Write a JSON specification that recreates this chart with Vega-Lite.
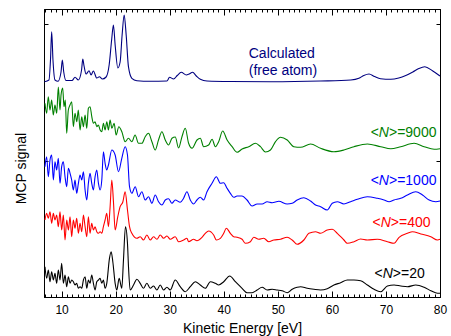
{
"$schema":"https://vega.github.io/schema/vega-lite/v6.json",
"width":396,"height":288,"autosize":"none",
"padding":{"left":44,"top":9,"right":11,"bottom":39},
"background":"white",
"config":{"font":"Liberation Sans","view":{"stroke":"black","strokeWidth":1},
"axis":{"domainColor":"black","tickColor":"black","labelColor":"black","titleColor":"black","grid":false,"domainWidth":1,"tickWidth":1}},
"datasets":{
"curves":[
{"series":"calc","E":6.84,"signal":215.3},{"series":"calc","E":7.67,"signal":217},{"series":"calc","E":7.95,"signal":237},{"series":"calc","E":8.17,"signal":265.3},{"series":"calc","E":8.41,"signal":237},{"series":"calc","E":8.78,"signal":217},{"series":"calc","E":9.34,"signal":215.7},{"series":"calc","E":9.9,"signal":225},{"series":"calc","E":10.14,"signal":237},{"series":"calc","E":10.4,"signal":225},{"series":"calc","E":10.82,"signal":216.5},{"series":"calc","E":11.94,"signal":216.5},{"series":"calc","E":12.49,"signal":219.7},{"series":"calc","E":13.1,"signal":217},{"series":"calc","E":13.7,"signal":227},{"series":"calc","E":13.92,"signal":238},{"series":"calc","E":14.16,"signal":231},{"series":"calc","E":14.53,"signal":223},{"series":"calc","E":15.09,"signal":226.3},{"series":"calc","E":15.46,"signal":222},{"series":"calc","E":15.88,"signal":226},{"series":"calc","E":16.51,"signal":219},{"series":"calc","E":17.0,"signal":220.3},{"series":"calc","E":17.55,"signal":218},{"series":"calc","E":18.24,"signal":220},{"series":"calc","E":18.8,"signal":232},{"series":"calc","E":19.26,"signal":257},{"series":"calc","E":19.59,"signal":272},{"series":"calc","E":19.91,"signal":252},{"series":"calc","E":20.41,"signal":229},{"series":"calc","E":20.83,"signal":235},{"series":"calc","E":21.2,"signal":262},{"series":"calc","E":21.58,"signal":282},{"series":"calc","E":21.95,"signal":262},{"series":"calc","E":22.37,"signal":230.3},{"series":"calc","E":23.0,"signal":218.7},{"series":"calc","E":23.93,"signal":216.3},{"series":"calc","E":26.4,"signal":215.7},{"series":"calc","E":29.49,"signal":216},{"series":"calc","E":29.97,"signal":219.7},{"series":"calc","E":30.72,"signal":218},{"series":"calc","E":31.4,"signal":221.5},{"series":"calc","E":32.14,"signal":224.7},{"series":"calc","E":33.07,"signal":222},{"series":"calc","E":33.6,"signal":223},{"series":"calc","E":34.24,"signal":224.7},{"series":"calc","E":34.92,"signal":221},{"series":"calc","E":35.67,"signal":217.7},{"series":"calc","E":36.9,"signal":216},{"series":"calc","E":41.2,"signal":215.5},{"series":"calc","E":48.64,"signal":215.3},{"series":"calc","E":57.9,"signal":216},{"series":"calc","E":63.5,"signal":217},{"series":"calc","E":65.0,"signal":218.7},{"series":"calc","E":65.9,"signal":221.5},{"series":"calc","E":66.87,"signal":223},{"series":"calc","E":67.9,"signal":220.5},{"series":"calc","E":69.0,"signal":218.3},{"series":"calc","E":70.9,"signal":217.7},{"series":"calc","E":72.37,"signal":219},{"series":"calc","E":73.67,"signal":221.5},{"series":"calc","E":74.97,"signal":225},{"series":"calc","E":76.08,"signal":228.5},{"series":"calc","E":77.19,"signal":230.3},{"series":"calc","E":78.6,"signal":226.3},{"series":"calc","E":80.0,"signal":221},
{"series":"9000","E":6.93,"signal":193.7},{"series":"9000","E":7.24,"signal":183.7},{"series":"9000","E":7.54,"signal":200.3},{"series":"9000","E":7.86,"signal":187},{"series":"9000","E":8.17,"signal":197},{"series":"9000","E":8.47,"signal":182},{"series":"9000","E":8.78,"signal":192},{"series":"9000","E":9.1,"signal":183.7},{"series":"9000","E":9.4,"signal":210},{"series":"9000","E":9.71,"signal":187},{"series":"9000","E":9.9,"signal":202},{"series":"9000","E":10.21,"signal":209},{"series":"9000","E":10.45,"signal":190.3},{"series":"9000","E":10.69,"signal":197},{"series":"9000","E":10.95,"signal":163.7},{"series":"9000","E":11.25,"signal":187},{"series":"9000","E":11.56,"signal":192},{"series":"9000","E":11.88,"signal":195.3},{"series":"9000","E":12.18,"signal":170.3},{"series":"9000","E":12.49,"signal":183.7},{"series":"9000","E":12.81,"signal":175.3},{"series":"9000","E":13.1,"signal":187},{"series":"9000","E":13.42,"signal":167},{"series":"9000","E":13.73,"signal":180.3},{"series":"9000","E":14.03,"signal":170.3},{"series":"9000","E":14.35,"signal":182},{"series":"9000","E":14.66,"signal":168.7},{"series":"9000","E":14.96,"signal":188.7},{"series":"9000","E":15.27,"signal":190.3},{"series":"9000","E":15.59,"signal":180.3},{"series":"9000","E":15.88,"signal":173.7},{"series":"9000","E":16.2,"signal":175.3},{"series":"9000","E":16.51,"signal":170.3},{"series":"9000","E":16.81,"signal":172},{"series":"9000","E":17.13,"signal":167},{"series":"9000","E":17.44,"signal":165.3},{"series":"9000","E":17.74,"signal":173.7},{"series":"9000","E":18.05,"signal":167},{"series":"9000","E":18.37,"signal":175.3},{"series":"9000","E":18.67,"signal":167},{"series":"9000","E":18.98,"signal":177},{"series":"9000","E":19.3,"signal":168.7},{"series":"9000","E":19.72,"signal":173.7},{"series":"9000","E":20.09,"signal":162},{"series":"9000","E":20.59,"signal":170.3},{"series":"9000","E":21.15,"signal":165.3},{"series":"9000","E":21.76,"signal":155.3},{"series":"9000","E":22.37,"signal":158.7},{"series":"9000","E":23.0,"signal":155.3},{"series":"9000","E":23.6,"signal":162},{"series":"9000","E":24.23,"signal":153.7},{"series":"9000","E":24.86,"signal":153.7},{"series":"9000","E":25.47,"signal":160.3},{"series":"9000","E":26.08,"signal":163.7},{"series":"9000","E":26.71,"signal":155.3},{"series":"9000","E":27.32,"signal":147},{"series":"9000","E":27.93,"signal":157},{"series":"9000","E":28.56,"signal":165.3},{"series":"9000","E":29.18,"signal":157},{"series":"9000","E":29.79,"signal":152},{"series":"9000","E":30.42,"signal":158.7},{"series":"9000","E":31.03,"signal":160},{"series":"9000","E":31.64,"signal":149},{"series":"9000","E":32.27,"signal":160.3},{"series":"9000","E":32.88,"signal":168.7},{"series":"9000","E":33.5,"signal":153.7},{"series":"9000","E":34.13,"signal":148.7},{"series":"9000","E":35.05,"signal":157},{"series":"9000","E":35.67,"signal":158.7},{"series":"9000","E":36.28,"signal":150.3},{"series":"9000","E":37.2,"signal":152},{"series":"9000","E":37.84,"signal":157.7},{"series":"9000","E":38.45,"signal":150.3},{"series":"9000","E":39.06,"signal":155.3},{"series":"9000","E":39.8,"signal":166},{"series":"9000","E":40.62,"signal":157},{"series":"9000","E":41.54,"signal":150.3},{"series":"9000","E":42.47,"signal":144.7},{"series":"9000","E":43.4,"signal":148},{"series":"9000","E":44.62,"signal":150.3},{"series":"9000","E":45.86,"signal":153.7},{"series":"9000","E":46.79,"signal":150.3},{"series":"9000","E":47.72,"signal":145},{"series":"9000","E":48.64,"signal":147},{"series":"9000","E":49.57,"signal":155.3},{"series":"9000","E":50.5,"signal":159.7},{"series":"9000","E":51.74,"signal":157},{"series":"9000","E":52.96,"signal":150.3},{"series":"9000","E":54.2,"signal":149.7},{"series":"9000","E":56.06,"signal":153},{"series":"9000","E":57.91,"signal":148.7},{"series":"9000","E":60.38,"signal":145.3},{"series":"9000","E":62.23,"signal":147},{"series":"9000","E":64.09,"signal":150.3},{"series":"9000","E":66.57,"signal":153},{"series":"9000","E":69.04,"signal":150.3},{"series":"9000","E":70.89,"signal":148.3},{"series":"9000","E":72.74,"signal":150.3},{"series":"9000","E":75.21,"signal":153.7},{"series":"9000","E":77.06,"signal":150.3},{"series":"9000","E":78.92,"signal":147.7},{"series":"9000","E":80.0,"signal":148.3},
{"series":"1000","E":6.93,"signal":130.3},{"series":"1000","E":7.24,"signal":140.3},{"series":"1000","E":7.55,"signal":120.3},{"series":"1000","E":7.86,"signal":137},{"series":"1000","E":8.17,"signal":142},{"series":"1000","E":8.48,"signal":117},{"series":"1000","E":8.78,"signal":135.3},{"series":"1000","E":9.09,"signal":127},{"series":"1000","E":9.4,"signal":138.7},{"series":"1000","E":9.71,"signal":113.7},{"series":"1000","E":10.02,"signal":130.3},{"series":"1000","E":10.33,"signal":135.3},{"series":"1000","E":10.64,"signal":120.3},{"series":"1000","E":10.95,"signal":110.3},{"series":"1000","E":11.26,"signal":128.7},{"series":"1000","E":11.57,"signal":123.7},{"series":"1000","E":11.87,"signal":117},{"series":"1000","E":12.18,"signal":107},{"series":"1000","E":12.49,"signal":117},{"series":"1000","E":12.8,"signal":103.7},{"series":"1000","E":13.11,"signal":113.7},{"series":"1000","E":13.42,"signal":122},{"series":"1000","E":13.73,"signal":117},{"series":"1000","E":14.04,"signal":125.3},{"series":"1000","E":14.35,"signal":107},{"series":"1000","E":14.66,"signal":97},{"series":"1000","E":14.96,"signal":113.7},{"series":"1000","E":15.27,"signal":123.7},{"series":"1000","E":15.58,"signal":113.7},{"series":"1000","E":15.89,"signal":107},{"series":"1000","E":16.2,"signal":120.3},{"series":"1000","E":16.51,"signal":127},{"series":"1000","E":16.82,"signal":113.7},{"series":"1000","E":17.13,"signal":107},{"series":"1000","E":17.44,"signal":117},{"series":"1000","E":17.74,"signal":145.3},{"series":"1000","E":18.05,"signal":133.7},{"series":"1000","E":18.36,"signal":127},{"series":"1000","E":18.67,"signal":132},{"series":"1000","E":19.29,"signal":147},{"series":"1000","E":19.91,"signal":142},{"series":"1000","E":20.53,"signal":125.3},{"series":"1000","E":21.14,"signal":138.7},{"series":"1000","E":21.76,"signal":150.3},{"series":"1000","E":22.19,"signal":142},{"series":"1000","E":22.57,"signal":110.3},{"series":"1000","E":23.0,"signal":103.7},{"series":"1000","E":23.62,"signal":110.3},{"series":"1000","E":24.23,"signal":100.3},{"series":"1000","E":24.85,"signal":105.3},{"series":"1000","E":25.47,"signal":97},{"series":"1000","E":26.09,"signal":100.3},{"series":"1000","E":26.71,"signal":93.7},{"series":"1000","E":27.32,"signal":102},{"series":"1000","E":27.94,"signal":95.3},{"series":"1000","E":28.56,"signal":92},{"series":"1000","E":29.18,"signal":97},{"series":"1000","E":29.8,"signal":98.3},{"series":"1000","E":30.41,"signal":93.7},{"series":"1000","E":31.03,"signal":97},{"series":"1000","E":31.95,"signal":94.7},{"series":"1000","E":32.57,"signal":98.7},{"series":"1000","E":33.19,"signal":105.3},{"series":"1000","E":33.81,"signal":97},{"series":"1000","E":34.43,"signal":93},{"series":"1000","E":35.04,"signal":97},{"series":"1000","E":35.66,"signal":99.7},{"series":"1000","E":36.28,"signal":97},{"series":"1000","E":36.9,"signal":105.3},{"series":"1000","E":37.83,"signal":113.7},{"series":"1000","E":38.63,"signal":120.3},{"series":"1000","E":39.37,"signal":113.7},{"series":"1000","E":39.99,"signal":114.3},{"series":"1000","E":40.61,"signal":108.7},{"series":"1000","E":41.22,"signal":103.7},{"series":"1000","E":41.84,"signal":99.7},{"series":"1000","E":42.46,"signal":101},{"series":"1000","E":43.39,"signal":101},{"series":"1000","E":44.31,"signal":97},{"series":"1000","E":45.24,"signal":91},{"series":"1000","E":46.17,"signal":93},{"series":"1000","E":47.1,"signal":93},{"series":"1000","E":48.02,"signal":95.3},{"series":"1000","E":48.95,"signal":94.3},{"series":"1000","E":50.19,"signal":95.7},{"series":"1000","E":51.73,"signal":93},{"series":"1000","E":52.66,"signal":93.7},{"series":"1000","E":53.58,"signal":97},{"series":"1000","E":54.82,"signal":99.3},{"series":"1000","E":56.06,"signal":96},{"series":"1000","E":56.98,"signal":92},{"series":"1000","E":57.91,"signal":90.3},{"series":"1000","E":59.14,"signal":87},{"series":"1000","E":60.07,"signal":93.7},{"series":"1000","E":61.0,"signal":95.3},{"series":"1000","E":62.23,"signal":93},{"series":"1000","E":63.47,"signal":95.3},{"series":"1000","E":64.71,"signal":97.7},{"series":"1000","E":66.56,"signal":100.3},{"series":"1000","E":68.41,"signal":98.7},{"series":"1000","E":69.65,"signal":97},{"series":"1000","E":70.58,"signal":95.3},{"series":"1000","E":71.5,"signal":97},{"series":"1000","E":72.74,"signal":98.7},{"series":"1000","E":73.98,"signal":102},{"series":"1000","E":75.52,"signal":105.3},{"series":"1000","E":76.76,"signal":102},{"series":"1000","E":77.99,"signal":97},{"series":"1000","E":79.23,"signal":95.3},{"series":"1000","E":80.0,"signal":96},
{"series":"400","E":6.93,"signal":77},{"series":"400","E":7.24,"signal":83.7},{"series":"400","E":7.55,"signal":78.7},{"series":"400","E":7.86,"signal":85.3},{"series":"400","E":8.17,"signal":73.7},{"series":"400","E":8.48,"signal":83.7},{"series":"400","E":8.78,"signal":77},{"series":"400","E":9.09,"signal":82},{"series":"400","E":9.4,"signal":70.3},{"series":"400","E":9.71,"signal":85.3},{"series":"400","E":10.02,"signal":67},{"series":"400","E":10.33,"signal":82},{"series":"400","E":10.64,"signal":57},{"series":"400","E":10.95,"signal":77},{"series":"400","E":11.26,"signal":67},{"series":"400","E":11.57,"signal":80.3},{"series":"400","E":11.87,"signal":60.3},{"series":"400","E":12.18,"signal":77},{"series":"400","E":12.49,"signal":68.7},{"series":"400","E":12.8,"signal":78.7},{"series":"400","E":13.11,"signal":63.7},{"series":"400","E":13.42,"signal":73.7},{"series":"400","E":13.73,"signal":65.3},{"series":"400","E":14.04,"signal":82},{"series":"400","E":14.35,"signal":70.3},{"series":"400","E":14.66,"signal":60.3},{"series":"400","E":14.96,"signal":80.3},{"series":"400","E":15.27,"signal":63.7},{"series":"400","E":15.58,"signal":73.7},{"series":"400","E":15.89,"signal":67},{"series":"400","E":16.2,"signal":70.3},{"series":"400","E":16.51,"signal":65.3},{"series":"400","E":16.82,"signal":63.7},{"series":"400","E":17.13,"signal":65.3},{"series":"400","E":17.44,"signal":63.7},{"series":"400","E":17.74,"signal":70.3},{"series":"400","E":18.05,"signal":77},{"series":"400","E":18.36,"signal":83.7},{"series":"400","E":18.67,"signal":70.3},{"series":"400","E":18.98,"signal":90.3},{"series":"400","E":19.29,"signal":117},{"series":"400","E":19.6,"signal":95},{"series":"400","E":19.91,"signal":67},{"series":"400","E":20.4,"signal":80.3},{"series":"400","E":20.83,"signal":90.3},{"series":"400","E":21.33,"signal":95},{"series":"400","E":21.76,"signal":105.3},{"series":"400","E":22.19,"signal":87},{"series":"400","E":22.57,"signal":70.3},{"series":"400","E":23.0,"signal":63.7},{"series":"400","E":23.93,"signal":58.7},{"series":"400","E":24.54,"signal":60.3},{"series":"400","E":25.16,"signal":57},{"series":"400","E":25.78,"signal":62},{"series":"400","E":26.4,"signal":57},{"series":"400","E":27.02,"signal":60.3},{"series":"400","E":27.63,"signal":57.7},{"series":"400","E":28.25,"signal":62},{"series":"400","E":28.87,"signal":58.7},{"series":"400","E":29.49,"signal":61},{"series":"400","E":30.1,"signal":57.7},{"series":"400","E":31.03,"signal":60.3},{"series":"400","E":31.65,"signal":55.3},{"series":"400","E":32.57,"signal":57},{"series":"400","E":33.19,"signal":58.7},{"series":"400","E":33.5,"signal":55.3},{"series":"400","E":34.43,"signal":57.7},{"series":"400","E":35.04,"signal":56.3},{"series":"400","E":35.97,"signal":59.7},{"series":"400","E":36.59,"signal":63.7},{"series":"400","E":37.21,"signal":66},{"series":"400","E":38.13,"signal":62},{"series":"400","E":38.63,"signal":57},{"series":"400","E":39.37,"signal":58.7},{"series":"400","E":39.99,"signal":63.7},{"series":"400","E":40.48,"signal":68.7},{"series":"400","E":41.22,"signal":63.7},{"series":"400","E":41.84,"signal":60.3},{"series":"400","E":42.46,"signal":59.7},{"series":"400","E":43.39,"signal":57.7},{"series":"400","E":44.01,"signal":53.7},{"series":"400","E":44.93,"signal":55.3},{"series":"400","E":45.55,"signal":59.7},{"series":"400","E":46.48,"signal":57.7},{"series":"400","E":47.4,"signal":58.7},{"series":"400","E":48.33,"signal":55.3},{"series":"400","E":49.26,"signal":57},{"series":"400","E":50.49,"signal":57.7},{"series":"400","E":51.73,"signal":59.7},{"series":"400","E":52.66,"signal":57},{"series":"400","E":53.58,"signal":52.7},{"series":"400","E":54.82,"signal":57},{"series":"400","E":55.75,"signal":63.7},{"series":"400","E":56.98,"signal":65.3},{"series":"400","E":57.91,"signal":63.7},{"series":"400","E":59.14,"signal":67},{"series":"400","E":60.07,"signal":67.7},{"series":"400","E":61.0,"signal":63.7},{"series":"400","E":62.23,"signal":57},{"series":"400","E":62.85,"signal":53.7},{"series":"400","E":64.09,"signal":55.3},{"series":"400","E":65.32,"signal":58},{"series":"400","E":66.56,"signal":57},{"series":"400","E":68.41,"signal":57.7},{"series":"400","E":70.27,"signal":55.3},{"series":"400","E":71.5,"signal":53.7},{"series":"400","E":72.43,"signal":59.7},{"series":"400","E":73.98,"signal":63.7},{"series":"400","E":74.9,"signal":65.3},{"series":"400","E":76.45,"signal":63},{"series":"400","E":78.3,"signal":60.3},{"series":"400","E":79.54,"signal":57},{"series":"400","E":80.0,"signal":57.7},
{"series":"20","E":6.93,"signal":30.3},{"series":"20","E":7.24,"signal":18.7},{"series":"20","E":7.55,"signal":27},{"series":"20","E":7.86,"signal":15.3},{"series":"20","E":8.17,"signal":25.3},{"series":"20","E":8.48,"signal":17},{"series":"20","E":8.78,"signal":23.7},{"series":"20","E":9.09,"signal":13.7},{"series":"20","E":9.4,"signal":27},{"series":"20","E":9.71,"signal":17},{"series":"20","E":10.02,"signal":33.7},{"series":"20","E":10.33,"signal":13.7},{"series":"20","E":10.64,"signal":22},{"series":"20","E":10.95,"signal":10.3},{"series":"20","E":11.26,"signal":20.3},{"series":"20","E":11.57,"signal":13.7},{"series":"20","E":11.87,"signal":17},{"series":"20","E":12.18,"signal":15.3},{"series":"20","E":12.49,"signal":12},{"series":"20","E":12.8,"signal":13.7},{"series":"20","E":13.11,"signal":8.7},{"series":"20","E":13.42,"signal":10.3},{"series":"20","E":13.73,"signal":8.7},{"series":"20","E":14.04,"signal":17},{"series":"20","E":14.35,"signal":20.3},{"series":"20","E":14.66,"signal":8.7},{"series":"20","E":14.96,"signal":17},{"series":"20","E":15.27,"signal":13.7},{"series":"20","E":15.58,"signal":22},{"series":"20","E":15.89,"signal":13.7},{"series":"20","E":16.2,"signal":7},{"series":"20","E":16.51,"signal":15.3},{"series":"20","E":16.82,"signal":17},{"series":"20","E":17.13,"signal":18.7},{"series":"20","E":17.44,"signal":13.7},{"series":"20","E":17.74,"signal":17},{"series":"20","E":18.05,"signal":8.7},{"series":"20","E":18.36,"signal":13.7},{"series":"20","E":18.86,"signal":38.7},{"series":"20","E":19.17,"signal":45.3},{"series":"20","E":19.48,"signal":35.3},{"series":"20","E":19.91,"signal":13.7},{"series":"20","E":20.22,"signal":7},{"series":"20","E":20.65,"signal":18.7},{"series":"20","E":21.14,"signal":8.7},{"series":"20","E":21.45,"signal":37},{"series":"20","E":21.82,"signal":70.3},{"series":"20","E":22.19,"signal":53.7},{"series":"20","E":22.38,"signal":30.3},{"series":"20","E":22.69,"signal":7},{"series":"20","E":23.31,"signal":12},{"series":"20","E":23.93,"signal":17.7},{"series":"20","E":24.54,"signal":13.7},{"series":"20","E":25.16,"signal":8.7},{"series":"20","E":25.78,"signal":13.7},{"series":"20","E":26.4,"signal":8.7},{"series":"20","E":27.02,"signal":11},{"series":"20","E":27.63,"signal":7},{"series":"20","E":28.25,"signal":12},{"series":"20","E":28.87,"signal":7},{"series":"20","E":29.49,"signal":9.7},{"series":"20","E":30.1,"signal":7},{"series":"20","E":31.03,"signal":17},{"series":"20","E":31.95,"signal":10.3},{"series":"20","E":32.88,"signal":5.3},{"series":"20","E":33.81,"signal":10.3},{"series":"20","E":34.74,"signal":15.3},{"series":"20","E":35.66,"signal":12},{"series":"20","E":36.59,"signal":8.7},{"series":"20","E":37.52,"signal":15.3},{"series":"20","E":38.44,"signal":13.7},{"series":"20","E":39.06,"signal":12},{"series":"20","E":39.99,"signal":15.3},{"series":"20","E":41.1,"signal":21},{"series":"20","E":42.15,"signal":15.3},{"series":"20","E":43.39,"signal":8.7},{"series":"20","E":44.31,"signal":4.3},{"series":"20","E":45.24,"signal":4.3},{"series":"20","E":46.17,"signal":7},{"series":"20","E":47.1,"signal":9.7},{"series":"20","E":48.02,"signal":7},{"series":"20","E":48.95,"signal":7.7},{"series":"20","E":49.88,"signal":7},{"series":"20","E":50.8,"signal":6.3},{"series":"20","E":51.73,"signal":4.3},{"series":"20","E":52.66,"signal":7.7},{"series":"20","E":53.58,"signal":9.7},{"series":"20","E":54.2,"signal":10.3},{"series":"20","E":55.44,"signal":8.7},{"series":"20","E":56.67,"signal":7.7},{"series":"20","E":57.91,"signal":7},{"series":"20","E":59.14,"signal":8.3},{"series":"20","E":60.38,"signal":12},{"series":"20","E":61.62,"signal":14.3},{"series":"20","E":62.85,"signal":17},{"series":"20","E":64.09,"signal":17},{"series":"20","E":65.32,"signal":16.3},{"series":"20","E":66.56,"signal":12},{"series":"20","E":67.8,"signal":7.7},{"series":"20","E":69.03,"signal":5.3},{"series":"20","E":70.27,"signal":11},{"series":"20","E":71.5,"signal":12},{"series":"20","E":72.74,"signal":11},{"series":"20","E":73.98,"signal":10.3},{"series":"20","E":75.52,"signal":12},{"series":"20","E":77.07,"signal":9.7},{"series":"20","E":78.3,"signal":6.3},{"series":"20","E":79.54,"signal":3.7},{"series":"20","E":80.0,"signal":3.7}
],
"labels":[
{"series":"calc","style":"normal","label":"Calculated","E":44.62,"signal":238.7},
{"series":"calc","style":"normal","label":"(free atom)","E":44.62,"signal":221.6},
{"series":"9000","style":"normal","label":"<","E":67.18,"signal":160.3},
{"series":"9000","style":"italic","label":"N","E":68.69,"signal":160.3},
{"series":"9000","style":"normal","label":">=9000","E":70.56,"signal":160.3},
{"series":"1000","style":"normal","label":"<","E":67.18,"signal":112},
{"series":"1000","style":"italic","label":"N","E":68.69,"signal":112},
{"series":"1000","style":"normal","label":">=1000","E":70.56,"signal":112},
{"series":"400","style":"normal","label":"<","E":67.53,"signal":70.3},
{"series":"400","style":"italic","label":"N","E":69.04,"signal":70.3},
{"series":"400","style":"normal","label":">=400","E":70.91,"signal":70.3},
{"series":"20","style":"normal","label":"<","E":67.9,"signal":18.7},
{"series":"20","style":"italic","label":"N","E":69.41,"signal":18.7},
{"series":"20","style":"normal","label":">=20","E":71.28,"signal":18.7}
]},
"layer":[
{"data":{"name":"curves"},
"mark":{"type":"line","strokeWidth":1.1,"interpolate":"monotone"},
"encoding":{
"x":{"field":"E","type":"quantitative","scale":{"domain":[6.75,80],"nice":false,"zero":false},
"axis":{"orient":"bottom","values":[7,8,9,10,11,12,13,14,15,16,17,18,19,20,21,22,23,24,25,26,27,28,29,30,31,32,33,34,35,36,37,38,39,40,41,42,43,44,45,46,47,48,49,50,51,52,53,54,55,56,57,58,59,60,61,62,63,64,65,66,67,68,69,70,71,72,73,74,75,76,77,78,79,80],
"tickSize":{"condition":{"test":"datum.value % 10 === 0","value":-6},"value":-3},
"labelExpr":"datum.value % 10 === 0 ? datum.label : ''","labelFontSize":12,"labelPadding":13,"labelOverlap":false,"labelFlush":false,
"title":"Kinetic Energy [eV]","titleFontSize":14,"titleFontWeight":"normal","titleBaseline":"alphabetic","titleY":35}},
"y":{"field":"signal","type":"quantitative","scale":{"domain":[0,288],"nice":false,"zero":false},
"axis":{"orient":"left","values":[0,136.5,273],"tickSize":-4,"labels":false,
"title":"MCP signal","titleFontSize":14,"titleFontWeight":"normal","titleBaseline":"alphabetic","titleX":-18.5,"titleY":159}},
"color":{"field":"series","type":"nominal","scale":{"domain":["calc","9000","1000","400","20"],"range":["#000080","#008000","#0000ff","#ff0000","#000000"]},"legend":null}
}},
{"data":{"name":"labels"},
"transform":[{"filter":"datum.style === 'normal'"}],
"mark":{"type":"text","align":"left","baseline":"alphabetic","fontSize":14},
"encoding":{
"x":{"field":"E","type":"quantitative",
"axis":{"orient":"top","values":[7,8,9,10,11,12,13,14,15,16,17,18,19,20,21,22,23,24,25,26,27,28,29,30,31,32,33,34,35,36,37,38,39,40,41,42,43,44,45,46,47,48,49,50,51,52,53,54,55,56,57,58,59,60,61,62,63,64,65,66,67,68,69,70,71,72,73,74,75,76,77,78,79,80],
"tickSize":{"condition":{"test":"datum.value % 10 === 0","value":-6},"value":-3},"labels":false,"title":null}},
"y":{"field":"signal","type":"quantitative","axis":{"orient":"right","values":[0,136.5,273],"tickSize":-4,"labels":false,"title":null}},
"text":{"field":"label"},
"color":{"field":"series","type":"nominal","legend":null}
}},
{"data":{"name":"labels"},
"transform":[{"filter":"datum.style === 'italic'"}],
"mark":{"type":"text","align":"left","baseline":"alphabetic","fontSize":14,"fontStyle":"italic"},
"encoding":{
"x":{"field":"E","type":"quantitative","axis":null},
"y":{"field":"signal","type":"quantitative","axis":null},
"text":{"field":"label"},
"color":{"field":"series","type":"nominal","legend":null}
}}
],
"resolve":{"axis":{"x":"independent","y":"independent"}}
}
